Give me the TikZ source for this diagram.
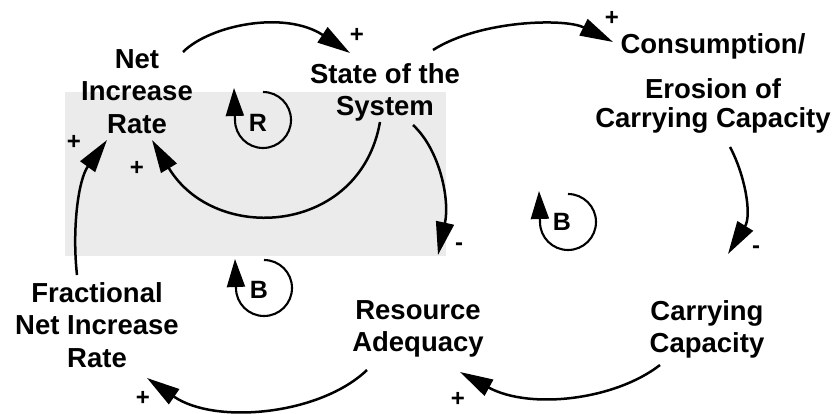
\documentclass[tikz,border=0pt]{standalone}
\usepackage{fontspec}
\setmainfont{Liberation Sans}
\usetikzlibrary{arrows.meta}

\begin{document}
\begin{tikzpicture}[
  x=1pt, y=-1pt,
  var/.style={align=center, inner sep=0pt, anchor=north, font=\fontsize{27.5}{32.5}\selectfont\bfseries},
  arrow/.style={-{Triangle[length=33pt, width=18pt]}, line width=2.5pt},
  pol/.style={inner sep=0pt, font=\fontsize{24}{24}\selectfont\bfseries},
  loopsign/.style={inner sep=0pt, font=\fontsize{25}{25}\selectfont\bfseries},
  looparc/.style={-{Triangle[length=28pt, width=18pt]}, line width=2.1pt}
]
  \useasboundingbox (0,0) rectangle (838,413);
  % grey scan patch behind the R loop
  \fill[black!8] (65,92) rectangle (446,256);

  \node[var] (netrate) at (137,49) {Net\\Increase\\Rate};
  \node[var] (state) at (385,63) {State of the\\System};
  \node[var] (cons) at (713,33) {Consumption/\\[13pt]Erosion of\\[-3.5pt]Carrying Capacity};
  \node[var] (carry) at (707,300) {Carrying\\Capacity};
  \node[var] (resource) at (418,300) {Resource\\Adequacy};
  \node[var] (frac) at (97,282) {Fractional\\Net Increase\\Rate};

  \node[loopsign] (rloop) at (258,123) {R};
  \node[loopsign] (bloopl) at (259,290) {B};
  \node[loopsign] (bloopr) at (562,222) {B};

  \draw[arrow] ([shift={(46,3)}]netrate.north) .. controls +(27,-27) and +(-65,-43) .. ([shift={(-35,-10)}]state.north);
  \draw[arrow] ([shift={(48,-13)}]state.north) .. controls +(47,-30) and +(-48,-24) .. ([shift={(-100,9)}]cons.north);
  \draw[arrow] ([shift={(17,114)}]cons.north) .. controls +(15,28) and +(24,-39) .. ([shift={(21,-46)}]carry.north);
  \draw[arrow] ([shift={(-47,65)}]carry.north) .. controls +(-45,35) and +(70,38) .. ([shift={(42,72)}]resource.north);
  \draw[arrow] ([shift={(-51,70)}]resource.north) .. controls +(-47,45) and +(68,47) .. ([shift={(50,96)}]frac.north);
  \draw[arrow] ([shift={(-20,-7)}]frac.north) .. controls +(-5,-45) and +(-29,40) .. ([shift={(-30,91)}]netrate.north);
  \draw[arrow] ([shift={(-5,59)}]state.north) .. controls +(-20,113) and +(63,105) .. ([shift={(15,91)}]netrate.north);
  \draw[arrow] ([shift={(28,62)}]state.north) .. controls +(27,25) and +(12,-55) .. ([shift={(20,-45)}]resource.north);

  % polarities
  \node[pol] (p1) at (357,35) {+};
  \node[pol] (p2) at (612,18) {+};
  \node[pol] (p3) at (756,250) {-};
  \node[pol] (p4) at (458,399) {+};
  \node[pol] (p5) at (143,398) {+};
  \node[pol] (p6) at (74,142) {+};
  \node[pol] (p7) at (137,168) {+};
  \node[pol] (p8) at (459,247) {-};

  % loop circles
  \draw[looparc] ([shift={(5,-31)}]rloop.center) arc[start angle=-90, end angle=180, radius=28] -- ++(-1,-32);
  \draw[looparc] ([shift={(5,-30)}]bloopl.center) arc[start angle=-90, end angle=180, radius=28] -- ++(-1,-29);
  \draw[looparc] ([shift={(6,-28)}]bloopr.center) arc[start angle=-90, end angle=180, radius=28] -- ++(-1,-31);
\end{tikzpicture}
\end{document}
